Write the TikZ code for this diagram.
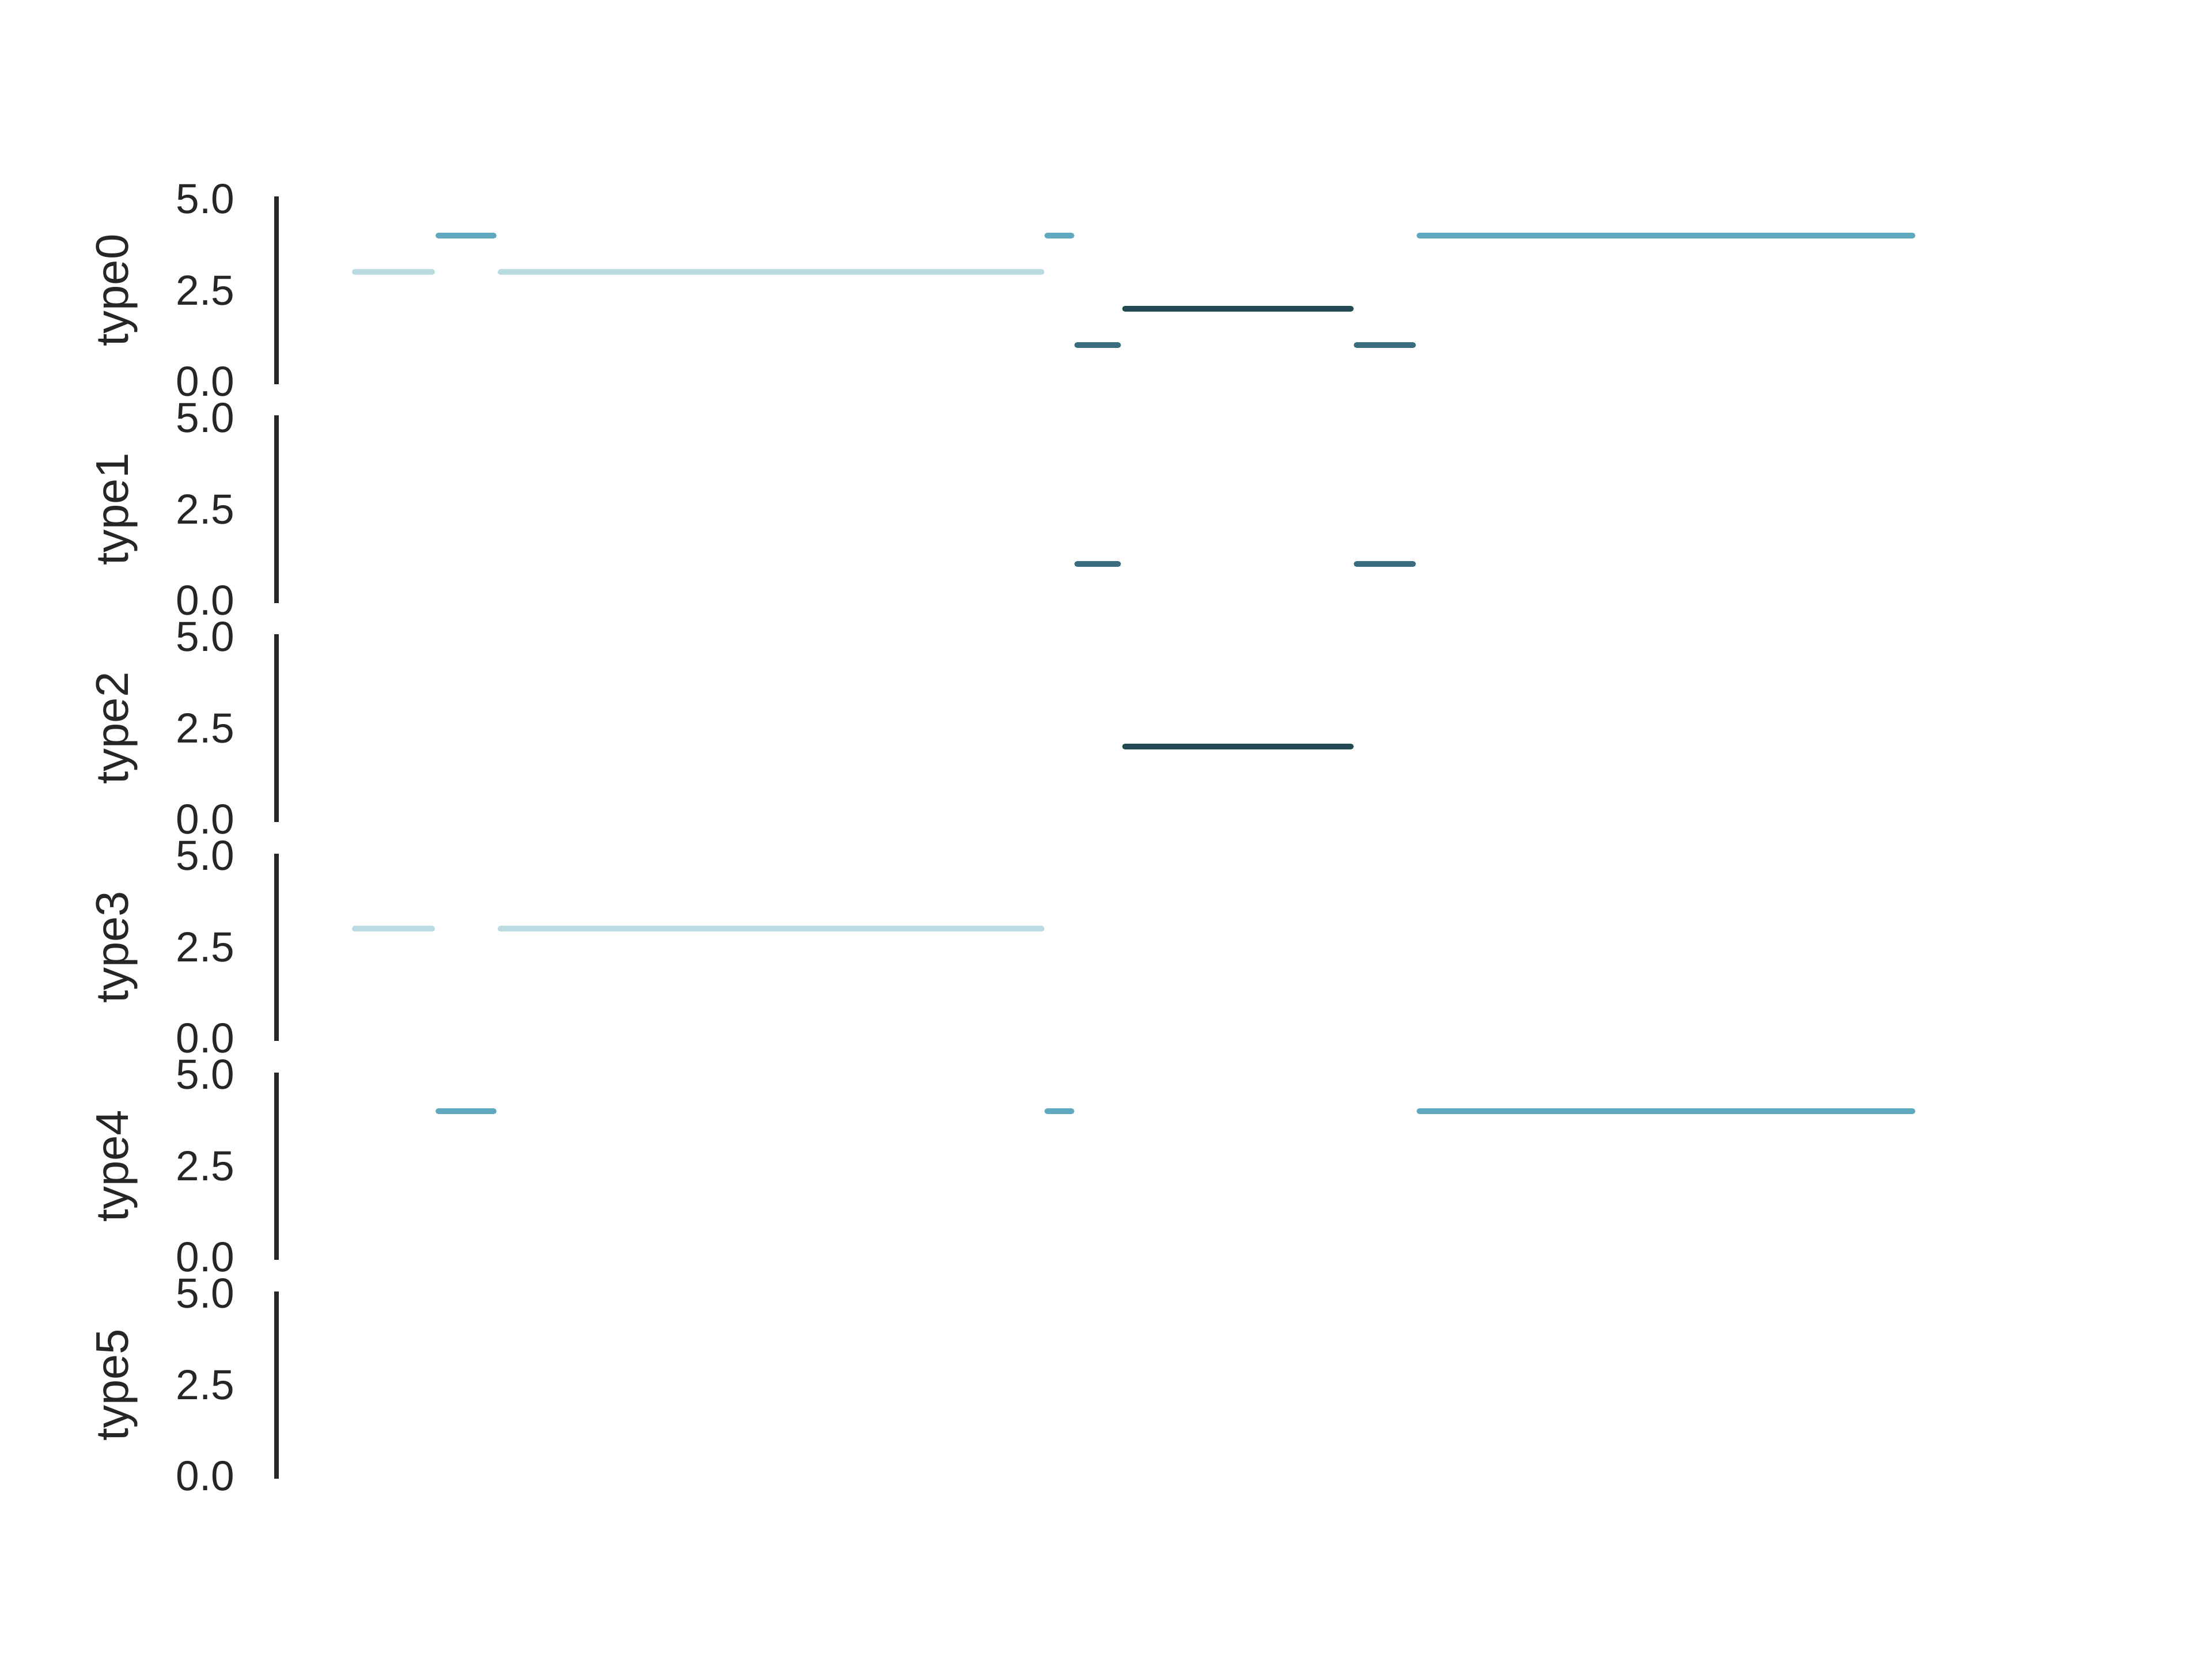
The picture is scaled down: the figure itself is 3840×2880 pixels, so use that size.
\documentclass[tikz,border=0pt]{standalone}
\usepackage{fontspec}
\setmainfont{Liberation Sans}
\definecolor{axisgray}{HTML}{262626}
\definecolor{lvlone}{HTML}{3A6C80}
\definecolor{lvltwo}{HTML}{244B54}
\definecolor{lvlthree}{HTML}{BADBE1}
\definecolor{lvlfour}{HTML}{5FA8BD}
\begin{document}
\begin{tikzpicture}[x=0.12bp,y=0.12bp]
 \tikzset{seg/.style={line width=1.2pt,line cap=round},
          ticklab/.style={anchor=east,inner sep=0pt,text=axisgray,font=\fontsize{8.8}{10}\selectfont},
          rowlab/.style={rotate=90,inner sep=0pt,text=axisgray,font=\fontsize{9.6}{11}\selectfont}}
 \useasboundingbox (0,0) rectangle (3840,2880);
 % one axis per type, 63.4px per unit, rows 380px apart
 \foreach \k in {0,...,5}{
    \draw[axisgray,line width=1pt,line cap=rect] (480,{2217.3-380*\k}) -- (480,{2534.3-380*\k});
    \foreach \v/\n in {0.0/lo,2.5/mid,5.0/hi}
       \node[ticklab] (t\k\n) at (409,{2217.3-380*\k+63.4*\v}) {\v};
    \node[rowlab] (lab\k) at (203,{2375.8-380*\k}) {type\k};
 }
 % segments: start/end/level/colour, drawn in type0 and in their own row
 \foreach \a/\b/\l/\c in {616/750/3/lvlthree,869/1808/3/lvlthree,
                          761/857/4/lvlfour,1818/1860/4/lvlfour,2464/3320/4/lvlfour,
                          1870/1941/1/lvlone,2355/2453/1/lvlone,
                          1953/2345/2/lvltwo}{
    \draw[seg,\c] (\a,{2217.3+63.4*\l}) -- (\b,{2217.3+63.4*\l});
    \draw[seg,\c] (\a,{2217.3-380*\l+63.4*\l}) -- (\b,{2217.3-380*\l+63.4*\l});
 }
\end{tikzpicture}
\end{document}
